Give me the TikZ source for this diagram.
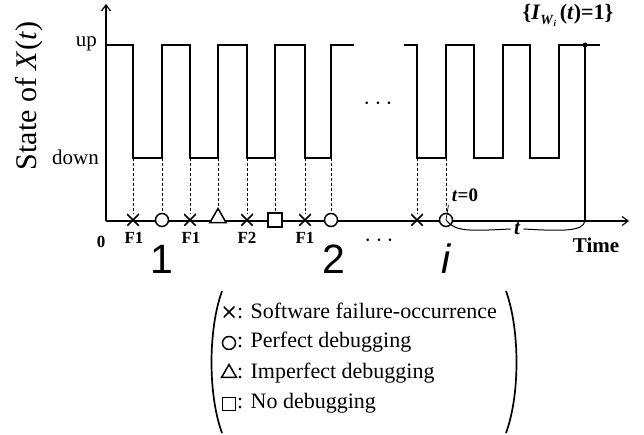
\documentclass[tikz,border=0pt]{standalone}
\usepackage{fontspec}
\setmainfont{Liberation Serif}
\newfontfamily\hsans{Liberation Sans}
\usetikzlibrary{arrows.meta,shapes.geometric}
\newcommand{\fsz}[1]{\fontsize{#1}{#1}\selectfont}
\begin{document}
\begin{tikzpicture}[x=1pt,y=-1pt,
  wave/.style={line width=1.2pt},
  guide/.style={densely dashed,line width=0.6pt},
  xmark/.style={draw=none,minimum size=12pt,inner sep=0pt,
     path picture={\draw[line width=1.7pt] (path picture bounding box.south west)--(path picture bounding box.north east)
       (path picture bounding box.north west)--(path picture bounding box.south east);}},
  omark/.style={circle,draw,line width=1.5pt,minimum size=13pt,inner sep=0pt,fill=white},
  tmark/.style={regular polygon,regular polygon sides=3,draw,line width=1.5pt,minimum size=19pt,inner sep=0pt,fill=white},
  smark/.style={rectangle,draw,line width=1.5pt,minimum size=14pt,inner sep=0pt,fill=white},
  flab/.style={font=\bfseries\fsz{17}},
  big/.style={font=\hsans\fsz{41}},
  dotz/.style={font=\fsz{30}},
  leg/.style={font=\fsz{22},anchor=west,inner sep=0pt}]
\useasboundingbox (0,0) rectangle (644,435);
% axes
\coordinate (o) at (106,221);
\coordinate (ytop) at (106,4);
\coordinate (xend) at (629,221);
\draw[line width=1.2pt,-{Straight Barb[length=6pt,width=9pt]}] (o) -- (ytop);
\draw[line width=1.2pt,-{Straight Barb[length=6pt,width=9pt]}] (o) -- (xend);
% labels
\node[rotate=90,font=\fsz{30}] (ylab) at (29,96) {State of \textit{X}(\textit{t})};
\node[anchor=east,font=\fsz{21},inner sep=0pt] (up) at (97,44) {up};
\node[anchor=east,font=\fsz{21},inner sep=0pt] (down) at (99,157) {down};
\node[font=\bfseries\fsz{17}] (zero) at (101,242) {0};
\node[font=\bfseries\fsz{21}] (time) at (596,245) {Time};
\node[font=\bfseries\fsz{22}] (iw) at (568,15) {\{\textit{I}\raisebox{-5pt}{\fsz{14}\textit{W}\raisebox{-2pt}{\fsz{9}\textit{i}}}\,(\textit{t})=1\}};
% waveform
\draw[wave] (106,45) -- (133,45) -- (133,158) -- (162,158) -- (162,45) -- (190,45) -- (190,158) -- (218,158) -- (218,45) -- (247,45) -- (247,158) -- (275,158) -- (275,45) -- (305,45) -- (305,158) -- (331,158) -- (331,45) -- (354,45);
\draw[wave] (404,45) -- (417,45) -- (417,158) -- (446,158) -- (446,45) -- (474,45) -- (474,158) -- (503,158) -- (503,45) -- (530,45) -- (530,158) -- (559,158) -- (559,45) -- (600,45);
\node[dotz] (dotsup) at (378,104) {$\cdots$};
% markers
\foreach \n/\x in {m1/133,m3/190,m5/247,m7/305,m9/417}{\node[xmark] (\n) at (\x,220) {};}
\foreach \n/\x in {m2/162,m8/331,m10/446}{\node[omark] (\n) at (\x,220) {};}
\node[tmark] (m4) at (218,218) {};
\node[smark] (m6) at (275,220) {};
\foreach \n/\x in {m1/133,m2/162,m3/190,m4/218,m5/247,m6/275,m7/305,m8/331,m9/417,m10/446}{
  \coordinate (d\n) at (\x,158);
  \draw[guide] (d\n) -- (\n);}
% end event
\coordinate (ev) at (585,45);
\coordinate (evb) at (585,221);
\fill (ev) circle (2.5pt);
\draw[line width=1.2pt] (ev) -- (evb);
% F labels
\node[flab] (f1a) at (134,238) {F1};
\node[flab] (f1b) at (191,238) {F1};
\node[flab] (f2) at (247,238) {F2};
\node[flab] (f1c) at (305,238) {F1};
\node[big] (n1) at (162,259) {1};
\node[big] (n2) at (334,259) {2};
\node[big] (ni) at (447,259) {\textit{i}};
\node[dotz] (dotsdn) at (379,241) {$\cdots$};
% t=0 pointer
\node[font=\bfseries\fsz{19}] (t0) at (465,195) {\textit{t}=0};
\draw[line width=0.7pt] (m10.center) -- (t0.south west);
% t brace
\node[font=\bfseries\itshape\fsz{21}] (tl) at (517,229) {t};
\draw[line width=1pt] (m10.center) .. controls (455,232) and (470,231) .. (tl.west);
\draw[line width=1pt] (tl.east) .. controls (560,231) and (583,232) .. (evb);
% legend brackets
\coordinate (lpt) at (222,291);
\coordinate (lpb) at (222,433);
\coordinate (rpt) at (506,291);
\coordinate (rpb) at (506,433);
\draw[line width=1.7pt] (lpt) .. controls (208,330) and (208,395) .. (lpb);
\draw[line width=1.7pt] (rpt) .. controls (520,330) and (520,395) .. (rpb);
% legend symbols
\node[xmark,minimum size=11pt] (s1) at (229,312) {};
\node[omark,minimum size=13pt] (s2) at (229,343) {};
\node[tmark,minimum size=17pt] (s3) at (229,373) {};
\node[smark,minimum size=13pt] (s4) at (229,404) {};
\node[leg] (l1) at (237,311) {: Software failure-occurrence};
\node[leg] (l2) at (237,342) {: Perfect debugging};
\node[leg] (l3) at (237,373) {: Imperfect debugging};
\node[leg] (l4) at (237,403) {: No debugging};
\end{tikzpicture}
\end{document}
